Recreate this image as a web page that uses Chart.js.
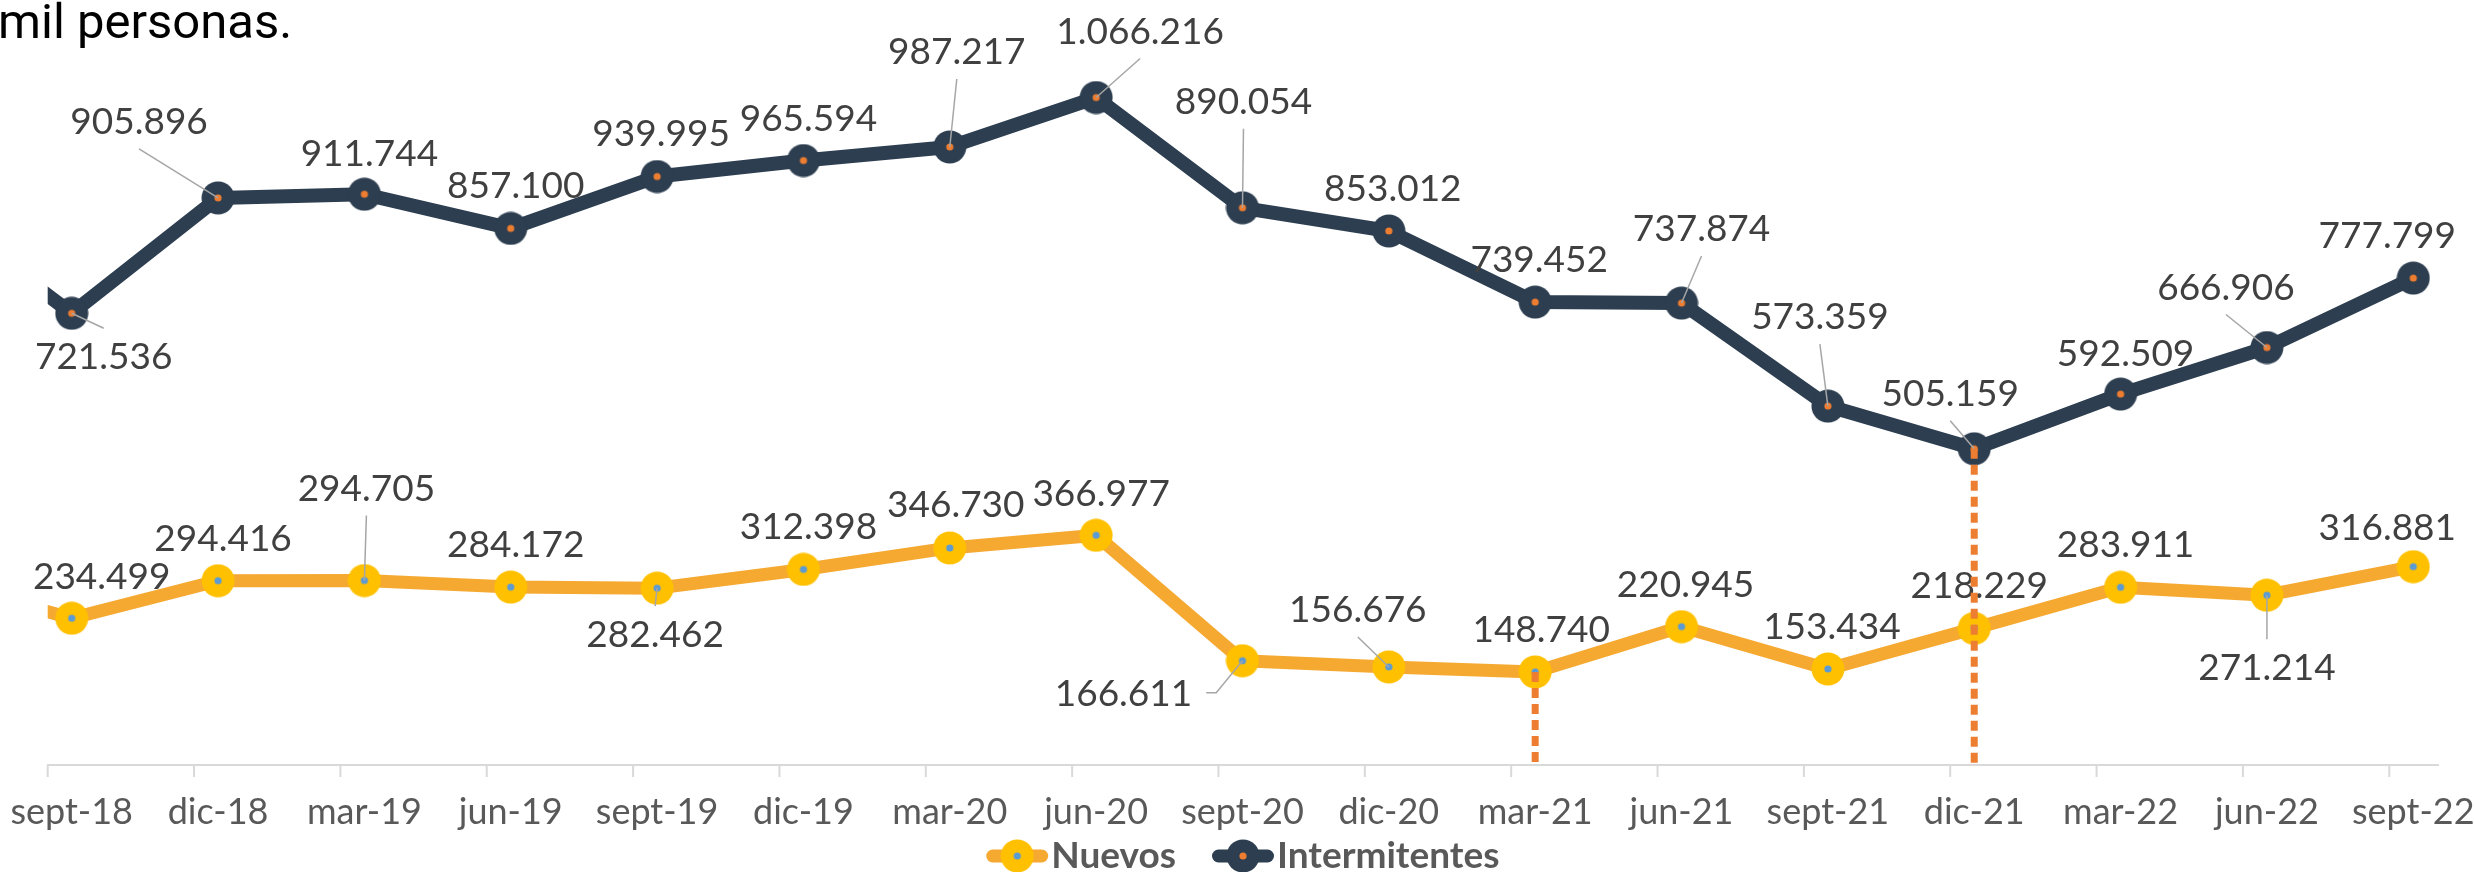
<!DOCTYPE html>
<html>
<head>
<meta charset="utf-8">
<script src="https://cdn.jsdelivr.net/npm/chart.js@4.4.1/dist/chart.umd.min.js"></script>
<style>
  html, body { margin: 0; padding: 0; background: #fff; overflow: hidden; }
  #wrap { width: 2474px; height: 872px; }
</style>
</head>
<body>
<div id="wrap"><canvas id="chart" width="2474" height="872"></canvas></div>
<script>
// ---- Data (thousands of people) ----
// jun-18 sits just left of the plot; only its line stub shows
const categories = ['jun-18', 'sept-18', 'dic-18', 'mar-19', 'jun-19', 'sept-19', 'dic-19', 'mar-20', 'jun-20',
  'sept-20', 'dic-20', 'mar-21', 'jun-21', 'sept-21', 'dic-21', 'mar-22', 'jun-22', 'sept-22'];
const nuevos = [298, 234.499, 294.416, 294.705, 284.172, 282.462, 312.398, 346.730, 366.977,
  166.611, 156.676, 148.740, 220.945, 153.434, 218.229, 283.911, 271.214, 316.881];
const intermitentes = [898, 721.536, 905.896, 911.744, 857.100, 939.995, 965.594, 987.217, 1066.216,
  890.054, 853.012, 739.452, 737.874, 573.359, 505.159, 592.509, 666.906, 777.799];
const seriesNames = ['Nuevos', 'Intermitentes'];
const titleText = 'mil personas.';

// ---- Label placement (dx, dy from the point, leader anchor) ----
const nuevosLabelPos = [null,
  [30, -42], [5, -43], [2, -93, 'b'], [5, -43], [-2, 46, 't'], [5, -43], [6, -44], [5, -42],
  [-119, 32, 'r'], [-31, -58, 'b'], [6, -43], [4, -43], [4, -43], [5, -43], [5, -43], [0, 72, 't'], [-26, -40]];
const intermitentesLabelPos = [null,
  [32, 43, 't'], [-79, -77, 'b'], [5, -41], [5, -43], [4, -44], [5, -43], [7, -96, 'b'], [44, -67, 'b'],
  [1, -107, 'b'], [4, -43], [4, -43], [20, -75, 'b'], [-8, -90, 'b'], [-24, -56, 'b'], [5, -41], [-41, -61, 'b'], [-26, -43]];
const dropLines = [[0, 'mar-21'], [1, 'dic-21']];

const lineColors = ['#F5A931', '#2D3E50'];
const markerFills = ['#FFC000', '#2D3E50'];
const markerDots = ['#5B9BD5', '#ED7D31'];
const TICK_SHIFT = 0.164;

function makeMarker(fill, dot) {
  const c = document.createElement('canvas');
  c.width = 34; c.height = 34;
  const g = c.getContext('2d');
  g.fillStyle = fill;
  g.beginPath(); g.arc(17, 17, 16.5, 0, Math.PI * 2); g.fill();
  g.fillStyle = dot;
  g.beginPath(); g.arc(17, 17, 3.6, 0, Math.PI * 2); g.fill();
  return c;
}
const markers = [makeMarker(markerFills[0], markerDots[0]), makeMarker(markerFills[1], markerDots[1])];

function fmt(v) {
  return String(Math.round(v * 1000)).replace(/\B(?=(\d{3})+(?!\d))/g, '.');
}

const overlay = {
  id: 'overlay',
  afterDatasetsDraw(chart) {
    const ctx = chart.ctx;
    const xs = chart.scales.x, ys = chart.scales.y;
    const area = chart.chartArea;
    const labelPos = [nuevosLabelPos, intermitentesLabelPos];
    const values = [nuevos, intermitentes];

    ctx.save();
    // title (cut-off caption from the source)
    ctx.font = '49px Roboto';
    ctx.fillStyle = '#000';
    ctx.textAlign = 'left';
    ctx.textBaseline = 'alphabetic';
    ctx.fillText(titleText, -2, 38);

    // tick marks sit a little left of each category
    ctx.strokeStyle = '#D9D9D9';
    ctx.lineWidth = 2;
    for (let i = 1; i < categories.length; i++) {
      const x = xs.getPixelForValue(i - TICK_SHIFT);
      ctx.beginPath(); ctx.moveTo(x, area.bottom); ctx.lineTo(x, area.bottom + 12); ctx.stroke();
    }

    // data labels + leader lines
    ctx.font = '37px Lato';
    [0, 1].forEach(s => {
      const meta = chart.getDatasetMeta(s);
      meta.data.forEach((pt, i) => {
        const p = labelPos[s][i];
        if (!p) return;
        const text = fmt(values[s][i]);
        const w = ctx.measureText(text).width;
        const cx = pt.x + p[0], cy = pt.y + p[1];
        if (p[2]) {
          ctx.strokeStyle = '#A6A6A6';
          ctx.lineWidth = 1.5;
          ctx.beginPath();
          if (p[2] === 'b') ctx.moveTo(cx, cy + 28);
          else if (p[2] === 't') ctx.moveTo(cx, cy - 28);
          else { ctx.moveTo(cx + w / 2 + 14, cy); ctx.lineTo(cx + w / 2 + 24, cy); }
          ctx.lineTo(pt.x, pt.y);
          ctx.stroke();
        }
        ctx.fillStyle = '#404040';
        ctx.textAlign = 'center';
        ctx.fillText(text, cx, cy + 13);
      });
    });

    // dotted drop lines
    ctx.strokeStyle = '#ED7D31';
    ctx.lineWidth = 7;
    ctx.setLineDash([10, 6]);
    dropLines.forEach(([s, cat]) => {
      const pt = chart.getDatasetMeta(s).data[categories.indexOf(cat)];
      ctx.beginPath(); ctx.moveTo(pt.x, pt.y); ctx.lineTo(pt.x, ys.getPixelForValue(0)); ctx.stroke();
    });
    ctx.setLineDash([]);

    // legend: line + marker, bold name
    ctx.font = 'bold 37px Lato';
    const symW = 62, gapText = 3, gapItem = 36;
    const widths = seriesNames.map(n => ctx.measureText(n).width);
    const total = widths.reduce((a, w) => a + symW + gapText + w, 0) + gapItem;
    let x = (area.left + area.right) / 2 - total / 2;
    const ly = 856;
    seriesNames.forEach((name, s) => {
      ctx.strokeStyle = lineColors[s];
      ctx.lineWidth = 13;
      ctx.lineCap = 'round';
      ctx.beginPath(); ctx.moveTo(x + 6.5, ly); ctx.lineTo(x + symW - 6.5, ly); ctx.stroke();
      ctx.drawImage(markers[s], x + symW / 2 - 17, ly - 17);
      ctx.fillStyle = '#595959';
      ctx.textAlign = 'left';
      ctx.fillText(name, x + symW + gapText, 868);
      x += symW + gapText + widths[s] + gapItem;
    });
    ctx.restore();
  }
};

const toPoints = arr => arr.map((v, i) => ({ x: i, y: v }));

new Chart(document.getElementById('chart'), {
  type: 'line',
  data: {
    datasets: [
      {
        label: seriesNames[0],
        data: toPoints(nuevos),
        borderColor: lineColors[0],
        borderWidth: 13,
        borderJoinStyle: 'round',
        pointStyle: markers[0],
        pointRadius: 16.5,
        clip: { left: 0, top: false, right: false, bottom: false }
      },
      {
        label: seriesNames[1],
        data: toPoints(intermitentes),
        borderColor: lineColors[1],
        borderWidth: 14,
        borderJoinStyle: 'round',
        pointStyle: markers[1],
        pointRadius: 16.5,
        clip: { left: 0, top: false, right: false, bottom: false }
      }
    ]
  },
  options: {
    responsive: false,
    animation: false,
    devicePixelRatio: 1,
    layout: { padding: { left: 47.7, right: 36, top: 0, bottom: 0 }, autoPadding: false },
    plugins: { legend: { display: false }, tooltip: { enabled: false } },
    scales: {
      x: {
        type: 'linear',
        min: 1 - TICK_SHIFT,
        max: 17.169,
        afterBuildTicks: s => { s.ticks = categories.slice(1).map((c, k) => ({ value: k + 1 })); },
        afterFit: s => { s.height = 107; s.paddingLeft = 0; s.paddingRight = 0; },
        grid: { display: false, drawTicks: false },
        border: { display: true, color: '#D9D9D9', width: 2 },
        ticks: {
          autoSkip: false,
          maxRotation: 0,
          padding: 26,
          color: '#595959',
          font: { family: 'Lato', size: 36, lineHeight: 1.2 },
          callback: v => categories[v] || ''
        }
      },
      y: { display: false, min: 0, max: 1222 }
    }
  },
  plugins: [overlay]
});
</script>
</body>
</html>
